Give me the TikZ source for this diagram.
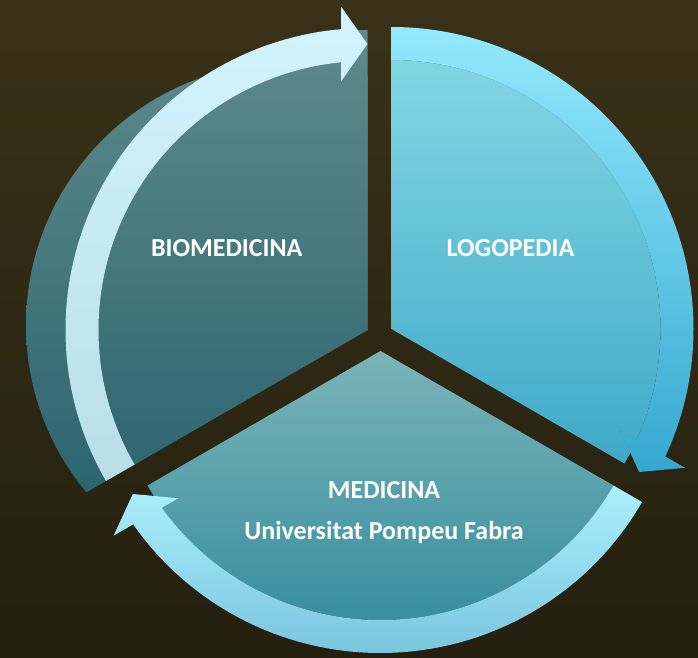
\documentclass[tikz,border=0pt]{standalone}
\usepackage{fontspec}
\setmainfont{Carlito}
\usetikzlibrary{calc}
\definecolor{bgtop}{HTML}{393218}
\definecolor{bgbot}{HTML}{241F0F}
\definecolor{logoTop}{HTML}{82D6E3}
\definecolor{logoBot}{HTML}{3FA9C9}
\definecolor{logoArrTop}{HTML}{93E9FD}
\definecolor{logoArrBot}{HTML}{35A8D0}
\definecolor{bioTop}{HTML}{5F8B8C}
\definecolor{bioBot}{HTML}{2B6470}
\definecolor{bioArrTop}{HTML}{D2F5FD}
\definecolor{bioArrBot}{HTML}{B9DEEA}
\definecolor{medTop}{HTML}{7AB4B8}
\definecolor{medBot}{HTML}{2F899C}
\definecolor{medArrTop}{HTML}{ABEFFC}
\definecolor{medArrBot}{HTML}{7AC6DF}
\tikzset{
  lbl/.style={text=white, font=\fontsize{26pt}{31pt}\selectfont\bfseries, inner sep=0pt, anchor=base},
  arrshadow/.style={fill=black, opacity=0.22, shift={(1.5,-2)}}
}
\newcommand{\arrowpath}[3]{% center, start angle, end angle (clockwise)
  ($(#1)+(#2:302)$) arc[start angle=#2,end angle={#3+5.03},radius=302]
  -- ($(#1)+(#3:323.5)+({#3+90}:26.5)$) -- ($(#1)+(#3:286)$)
  -- ($(#1)+(#3:248.5)+({#3+90}:26.5)$) -- ($(#1)+({#3+5.65}:269)$)
  arc[start angle={#3+5.65},end angle=#2,radius=269] -- cycle}
\begin{document}
\begin{tikzpicture}[x=1pt,y=1pt]
\useasboundingbox (0,0) rectangle (698,657);
\shade[top color=bgtop,bottom color=bgbot] (0,0) rectangle (698,657);

\coordinate (CL) at (391.5,328);
\coordinate (CB) at (367.5,327);
\coordinate (CM) at (380.5,306);

% ---- BIOMEDICINA body ----
\begin{scope}
  \clip (CB) -- ($(CB)+(90:300)$) arc[start angle=90,end angle=210,radius=300] -- cycle;
  \shade[top color=bioTop,bottom color=bioBot] (0,160) rectangle (370,632);
\end{scope}
\begin{scope}
  \clip (CB) -- ($(CB)+(90:600)$) -- ($(CB)+(150:600)$) -- ($(CB)+(210:600)$) -- cycle;
  \clip (288,332) circle[radius=262];
  \shade[top color=bioTop,bottom color=bioBot] (0,160) rectangle (370,632);
\end{scope}

% ---- LOGOPEDIA body ----
\shade[top color=logoTop,bottom color=logoBot]
  (CL) -- ($(CL)+(90:269)$) arc[start angle=90,end angle=-30,radius=269] -- cycle;

% ---- MEDICINA body ----
\shade[top color=medTop,bottom color=medBot]
  (CM) -- ($(CM)+(210:269)$) arc[start angle=210,end angle=330,radius=269] -- cycle;

% ---- arrows (with soft shadow) ----
\begin{scope}
  \clip (CL) -- ($(CL)+(90:269)$) arc[start angle=90,end angle=-30,radius=269] -- cycle;
  \fill[arrshadow] \arrowpath{CL}{90}{-30};
\end{scope}
\shade[top color=logoArrTop,bottom color=logoArrBot] \arrowpath{CL}{90}{-30};

\begin{scope}
  \clip (CB) -- ($(CB)+(90:300)$) arc[start angle=90,end angle=210,radius=300] -- cycle;
  \fill[arrshadow] \arrowpath{CB}{210}{90};
\end{scope}
\shade[top color=bioArrTop,bottom color=bioArrBot] \arrowpath{CB}{210}{90};

\begin{scope}
  \clip (CM) -- ($(CM)+(210:269)$) arc[start angle=210,end angle=330,radius=269] -- cycle;
  \fill[arrshadow] \arrowpath{CM}{330}{210};
\end{scope}
\shade[top color=medArrTop,bottom color=medArrBot] \arrowpath{CM}{330}{210};

% ---- labels ----
\node[lbl] (bio) at (226.7,400) {BIOMEDICINA};
\node[lbl] (logo) at (510.5,400) {LOGOPEDIA};
\node[lbl] (med1) at (384,159) {MEDICINA};
\node[lbl] (med2) at (384,118) {Universitat Pompeu Fabra};
\end{tikzpicture}
\end{document}
